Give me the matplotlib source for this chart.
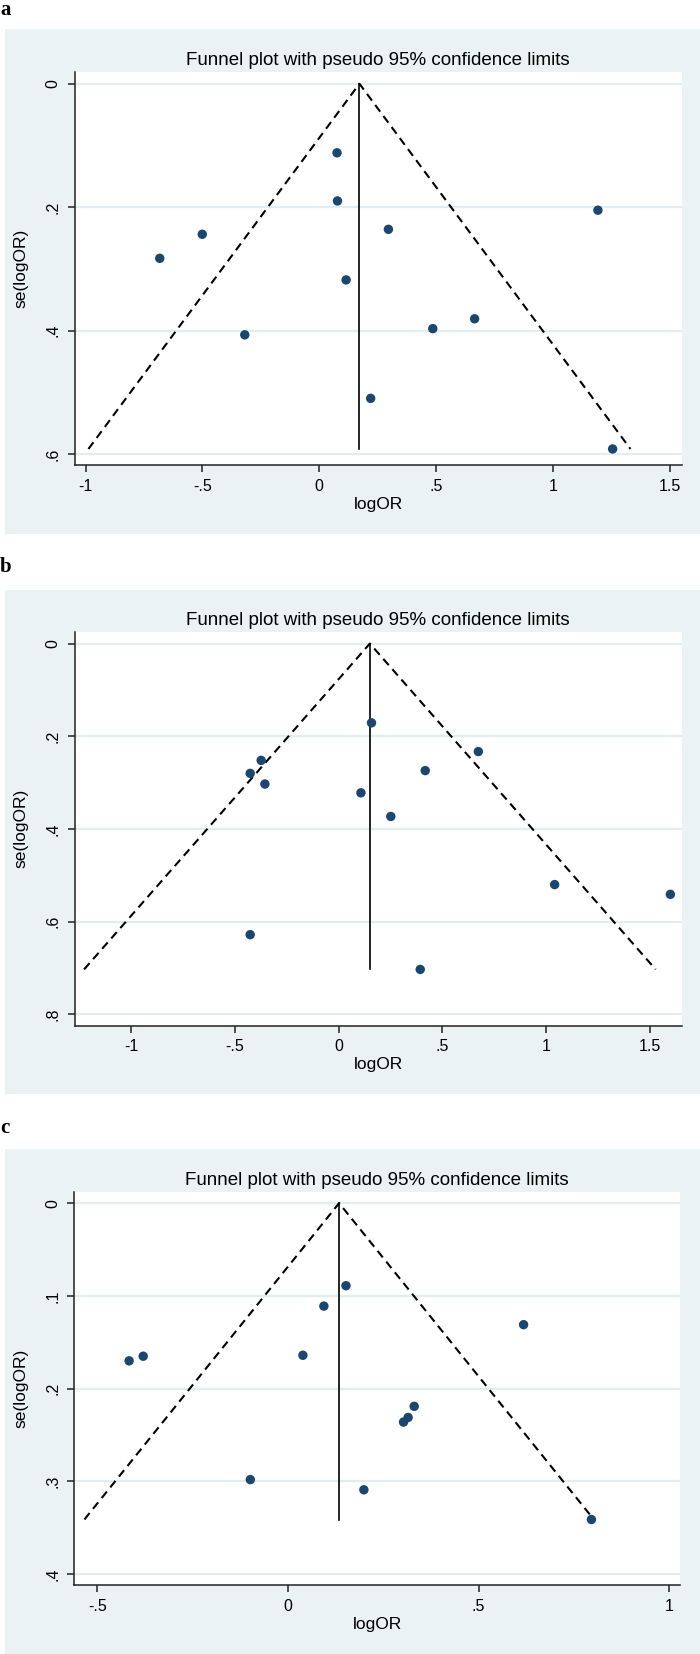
import numpy as np
import matplotlib.pyplot as plt
from matplotlib.patches import Rectangle

plt.rcParams['font.family'] = ['Liberation Sans', 'DejaVu Sans']

# panel a
logor_a = [0.076, 0.078, 1.193, 0.296, -0.501, -0.683, 0.115, 0.665, 0.486, -0.319, 0.220, 1.256]
se_a = [0.112, 0.190, 0.205, 0.236, 0.244, 0.283, 0.318, 0.381, 0.397, 0.407, 0.510, 0.592]
pooled_a = 0.172
xticks_a = [-1, -0.5, 0, 0.5, 1, 1.5]
xlabels_a = ["-1", "-.5", "0", ".5", "1", "1.5"]
yticks_a = [0, 0.2, 0.4, 0.6]
ylabels_a = ["0", ".2", ".4", ".6"]

# panel b
logor_b = [0.159, 0.674, -0.373, -0.426, 0.418, -0.355, 0.108, 0.252, 1.042, 1.600, -0.426, 0.394]
se_b = [0.171, 0.233, 0.252, 0.280, 0.274, 0.303, 0.322, 0.373, 0.520, 0.541, 0.628, 0.703]
pooled_b = 0.151
xticks_b = [-1, -0.5, 0, 0.5, 1, 1.5]
xlabels_b = ["-1", "-.5", "0", ".5", "1", "1.5"]
yticks_b = [0, 0.2, 0.4, 0.6, 0.8]
ylabels_b = ["0", ".2", ".4", ".6", ".8"]

# panel c
logor_c = [0.152, 0.094, 0.618, 0.039, -0.380, -0.417, 0.331, 0.315, 0.303, -0.099, 0.199, 0.796]
se_c = [0.089, 0.111, 0.131, 0.164, 0.165, 0.170, 0.219, 0.231, 0.236, 0.298, 0.309, 0.341]
pooled_c = 0.134
xticks_c = [-0.5, 0, 0.5, 1]
xlabels_c = ["-.5", "0", ".5", "1"]
yticks_c = [0, 0.1, 0.2, 0.3, 0.4]
ylabels_c = ["0", ".1", ".2", ".3", ".4"]

W, H = 700, 1654
BG = "#EAF2F3"
GRID = "#E3EDEF"
DOT = "#1A476F"

fig = plt.figure(figsize=(W / 100, H / 100), dpi=100)


def box(x0, y0, x1, y1):
    # pixel box (top-left origin) -> figure fraction
    return [x0 / W, 1 - y1 / H, (x1 - x0) / W, (y1 - y0) / H]


def panel(letter, letter_base, bg_top, bg_bot, plot_box, logor, se, pooled,
          xlim, ylim, xticks, xlabels, yticks, ylabels):
    l, b, w, h = box(5, bg_top, 700, bg_bot)
    fig.patches.append(Rectangle((l, b), w, h, transform=fig.transFigure,
                                 facecolor=BG, edgecolor="none", zorder=-5))
    fig.text(0.0, 1 - letter_base / H, letter, family="Liberation Serif",
             fontweight="bold", fontsize=15, va="baseline", ha="left")

    ax = fig.add_axes(box(*plot_box))
    ax.set_zorder(2)
    ax.set_facecolor("white")
    ax.set_xlim(*xlim)
    ax.set_ylim(*ylim)

    se_max = max(se)
    ax.plot([pooled - 1.96 * se_max, pooled, pooled + 1.96 * se_max],
            [se_max, 0, se_max], color="black", lw=1.5, ls=(0, (4, 2.6)), zorder=2)
    ax.plot([pooled, pooled], [0, se_max], color="black", lw=1.2, zorder=2)
    ax.scatter(logor, se, s=46, color=DOT, edgecolors="none", zorder=3)

    for yt in yticks:
        ax.axhline(yt, color=GRID, lw=1.6, zorder=1)

    for side in ["top", "right"]:
        ax.spines[side].set_visible(False)
    for side in ["left", "bottom"]:
        ax.spines[side].set_color("#222222")
        ax.spines[side].set_linewidth(1.1)

    ax.set_xticks(xticks)
    ax.set_xticklabels(xlabels)
    ax.set_yticks(yticks)
    ax.set_yticklabels(ylabels, rotation=90, va="center")
    ax.tick_params(axis="both", direction="out", length=5, width=1.1,
                   color="#222222", labelsize=11.5, pad=5)
    ax.set_xlabel("logOR", fontsize=12.5, labelpad=2)
    ax.set_ylabel("se(logOR)", fontsize=12.5, labelpad=12)
    ax.set_title("Funnel plot with pseudo 95% confidence limits", fontsize=13.5, pad=5)


panel("a", 15, 29, 534, (74.5, 72, 682, 465), logor_a, se_a, pooled_a,
      (-1.048, 1.553), (0.618, -0.019), xticks_a, xlabels_a, yticks_a, ylabels_a)
panel("b", 572, 590, 1094, (74.5, 632, 682, 1025.5), logor_b, se_b, pooled_b,
      (-1.273, 1.656), (0.824, -0.025), xticks_b, xlabels_b, yticks_b, ylabels_b)
panel("c", 1133, 1149, 1654, (74, 1192, 680, 1585), logor_c, se_c, pooled_c,
      (-0.5616, 1.0284), (0.4116, -0.012), xticks_c, xlabels_c, yticks_c, ylabels_c)

fig.savefig("out.png", dpi=100, facecolor="white")
